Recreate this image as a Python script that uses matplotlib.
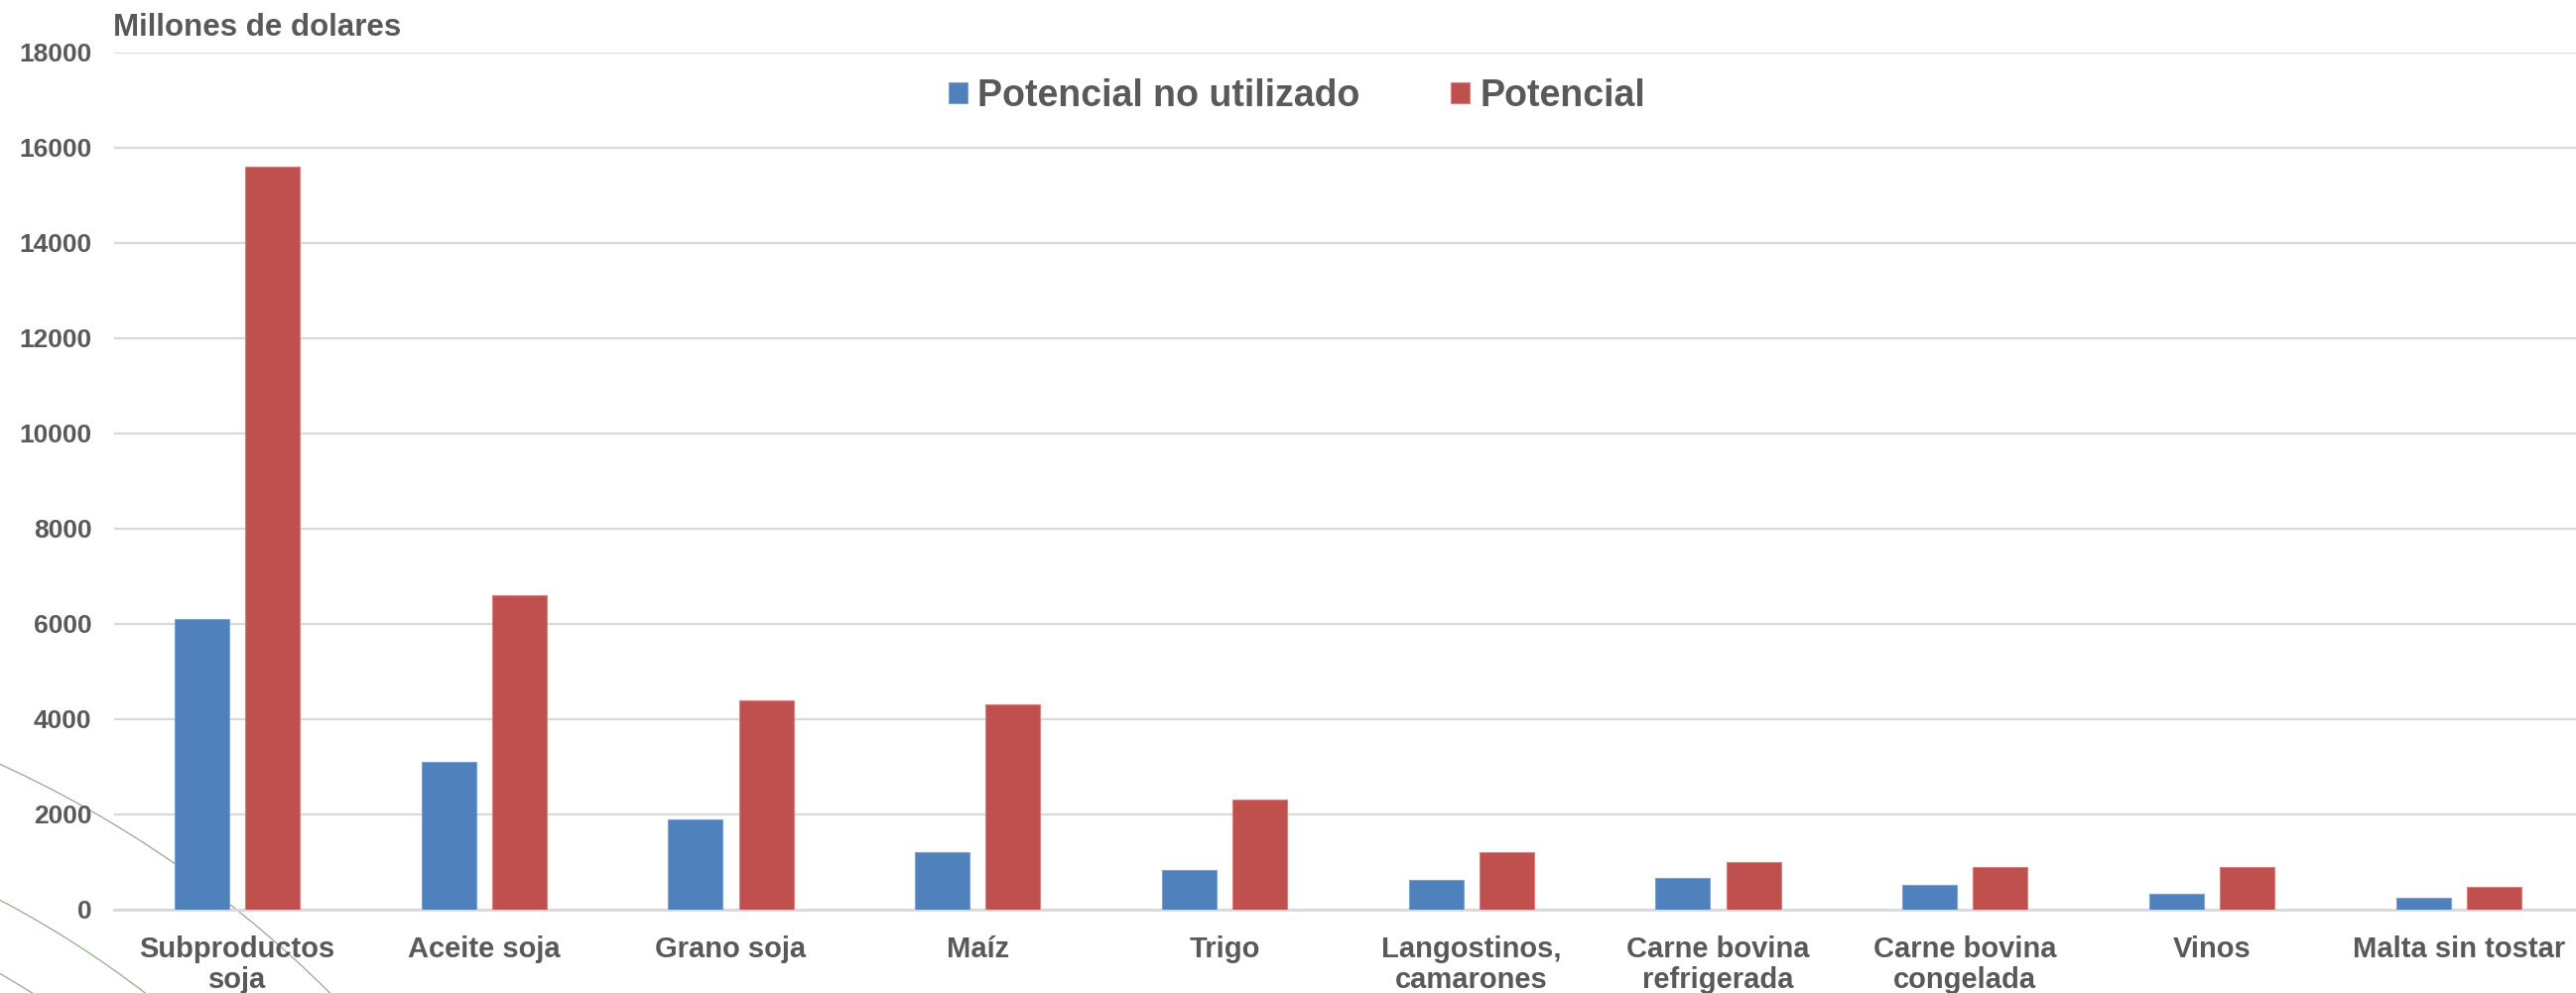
"""Potencial exportador: potencial no utilizado vs potencial (millones de USD)."""

import numpy as np
import matplotlib as mpl
import matplotlib.pyplot as plt
from matplotlib.patches import Circle

# ── data ──────────────────────────────────────────────────────────────
CATEGORIES = [
    "Subproductos\nsoja",
    "Aceite soja",
    "Grano soja",
    "Maíz",
    "Trigo",
    "Langostinos,\ncamarones",
    "Carne bovina\nrefrigerada",
    "Carne bovina\ncongelada",
    "Vinos",
    "Malta sin tostar",
]
NO_UTILIZADO = [6100, 3100, 1900, 1200, 830, 620, 670, 510, 330, 240]
POTENCIAL = [15600, 6600, 4400, 4300, 2300, 1200, 1000, 880, 880, 470]

SERIES_LABELS = ["Potencial no utilizado", "Potencial"]
Y_TICKS = [0, 2000, 4000, 6000, 8000, 10000, 12000, 14000, 16000, 18000]

# ── style ─────────────────────────────────────────────────────────────
BLUE = "#4F81BD"
RED = "#C0504D"
TEXT = "#595959"
GRID = "#D9D9D9"
ARC = "#93AD8B"

mpl.rcParams.update({
    "font.family": ["Liberation Sans", "DejaVu Sans"],
    "font.weight": "bold",
})

W, H = 2596, 1001
fig = plt.figure(figsize=(W / 100, H / 100), dpi=100)

# background decoration (slide arcs), in pixel coordinates
bg = fig.add_axes([0, 0, 1, 1], zorder=0)
bg.set_xlim(0, W)
bg.set_ylim(H, 0)
bg.axis("off")
arc_center = (-475, 1810)
for r in (1143, 1020, 955):
    bg.add_patch(Circle(arc_center, r, fill=False, edgecolor=ARC, linewidth=0.9))

ax = fig.add_axes([0.04414, 0.0842, 0.9582, 0.8632], zorder=1)
ax.patch.set_alpha(0)

x = np.arange(len(CATEGORIES))
bw = 0.221
off = 0.143
ax.bar(x - off, NO_UTILIZADO, width=bw, color=BLUE, edgecolor="#7DA2D1",
       linewidth=0.8, label=SERIES_LABELS[0], zorder=3)
ax.bar(x + off, POTENCIAL, width=bw, color=RED, edgecolor="#D8807D",
       linewidth=0.8, label=SERIES_LABELS[1], zorder=3)

ax.set_xlim(-0.5, len(CATEGORIES) - 0.5)
ax.set_ylim(0, 18000)
ax.set_yticks(Y_TICKS)
ax.set_yticklabels([str(v) for v in Y_TICKS], fontsize=19, color=TEXT,
                   fontweight="bold")
ax.set_xticks(x)
ax.set_xticklabels(CATEGORIES, fontsize=21, color=TEXT, fontweight="bold",
                   linespacing=1.12)
ax.tick_params(axis="y", length=0, pad=16)
ax.tick_params(axis="x", length=0, pad=19)

ax.yaxis.grid(True, color=GRID, linewidth=1.6)
ax.set_axisbelow(True)
for s in ("top", "right", "left"):
    ax.spines[s].set_visible(False)
ax.spines["bottom"].set_color(GRID)
ax.spines["bottom"].set_linewidth(2.0)

fig.text(114 / W, 1 - 28 / H, "Millones de dolares", fontsize=22.5,
         color=TEXT, fontweight="bold", ha="left", va="center")

leg = ax.legend(
    loc="center", bbox_to_anchor=(1307 / W, 1 - 97 / H),
    bbox_transform=fig.transFigure, ncol=2, frameon=False,
    prop={"size": 27, "weight": "bold"},
    handlelength=0.5, handleheight=0.5, handletextpad=0.28,
    columnspacing=2.45, borderpad=0, borderaxespad=0,
)
for t in leg.get_texts():
    t.set_color(TEXT)

fig.savefig("out.png", dpi=100)
